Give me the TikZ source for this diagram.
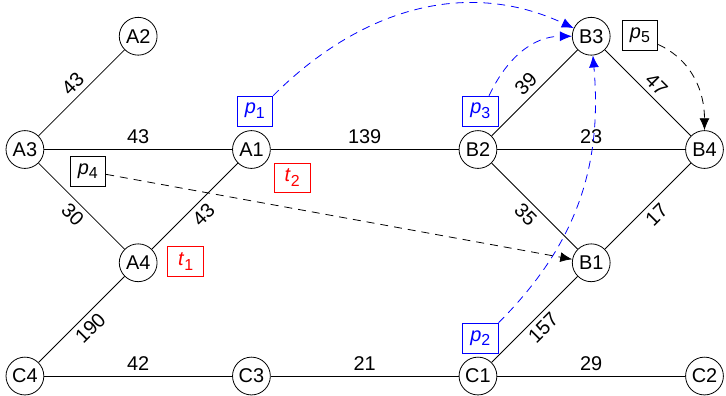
\documentclass[tikz,border=0pt]{standalone}
\usepackage{fontspec}
\setmainfont{Liberation Sans}
\usetikzlibrary{arrows.meta}
\newcommand{\tg}[2]{\textit{#1}\raisebox{-0.45ex}{\footnotesize #2}}

\begin{document}
\begin{tikzpicture}[x=2cm, y=2cm,
    stn/.style={draw, circle, minimum size=19pt, inner sep=0.5pt},
    tagbox/.style={draw, minimum height=15pt, minimum width=18pt, inner sep=2pt},
    wt/.style={midway, sloped, inner sep=2.5pt},
    flow/.style={dash pattern=on 4pt off 3pt, -{Latex[length=6pt, width=5pt]}}]
      \useasboundingbox (-0.22,-0.168) rectangle (6.19,3.32);

      % stations
      \node[stn] (A2) at (1,3) {A2};
      \node[stn] (A3) at (0,2) {A3};
      \node[stn] (A1) at (2,2) {A1};
      \node[stn] (B2) at (4,2) {B2};
      \node[stn] (B4) at (6,2) {B4};
      \node[stn] (B3) at (5,3) {B3};
      \node[stn] (A4) at (1,1) {A4};
      \node[stn] (B1) at (5,1) {B1};
      \node[stn] (C4) at (0,0) {C4};
      \node[stn] (C3) at (2,0) {C3};
      \node[stn] (C1) at (4,0) {C1};
      \node[stn] (C2) at (6,0) {C2};

      % weighted links
      \draw (A3) -- node[wt, above] {43} (A2);
      \draw (A3) -- node[wt, above] {43} (A1);
      \draw (A3) -- node[wt, below] {30} (A4);
      \draw (A4) -- node[wt, below] {43} (A1);
      \draw (A1) -- node[wt, above] {139} (B2);
      \draw (C4) -- node[wt, below] {190} (A4);
      \draw (C4) -- node[wt, above] {42} (C3);
      \draw (C3) -- node[wt, above] {21} (C1);
      \draw (C1) -- node[wt, above] {29} (C2);
      \draw (C1) -- node[wt, below] {157} (B1);
      \draw (B2) -- node[wt, below] {35} (B1);
      \draw (B1) -- node[wt, below] {17} (B4);
      \draw (B2) -- node[wt, above] {23} (B4);
      \draw (B2) -- node[wt, above] {39} (B3);
      \draw (B3) -- node[wt, above] {47} (B4);

      % tags
      \node[tagbox, blue] (p1) at (2.03,2.34) {\tg{p}{1}};
      \node[tagbox, blue] (p3) at (4.02,2.34) {\tg{p}{3}};
      \node[tagbox, blue] (p2) at (4.02,0.335) {\tg{p}{2}};
      \node[tagbox] (p4) at (0.556,1.81) {\tg{p}{4}};
      \node[tagbox] (p5) at (5.43,3.01) {\tg{p}{5}};
      \node[tagbox, red] (t2) at (2.36,1.75) {\tg{t}{2}};
      \node[tagbox, red] (t1) at (1.42,1.01) {\tg{t}{1}};

      % flows
      \draw[flow, blue] (p1.north east) to[out=45, in=155] (B3);
      \draw[flow, blue] (p3.60) to[out=65, in=180] (B3);
      \draw[flow, blue] (p2.north east) to[out=45, in=-85] (B3);
      \draw[flow] (p4) -- (B1);
      \draw[flow] ([yshift=3pt]p5.south east) to[out=-25, in=90] (B4);
    \end{tikzpicture}
\end{document}
